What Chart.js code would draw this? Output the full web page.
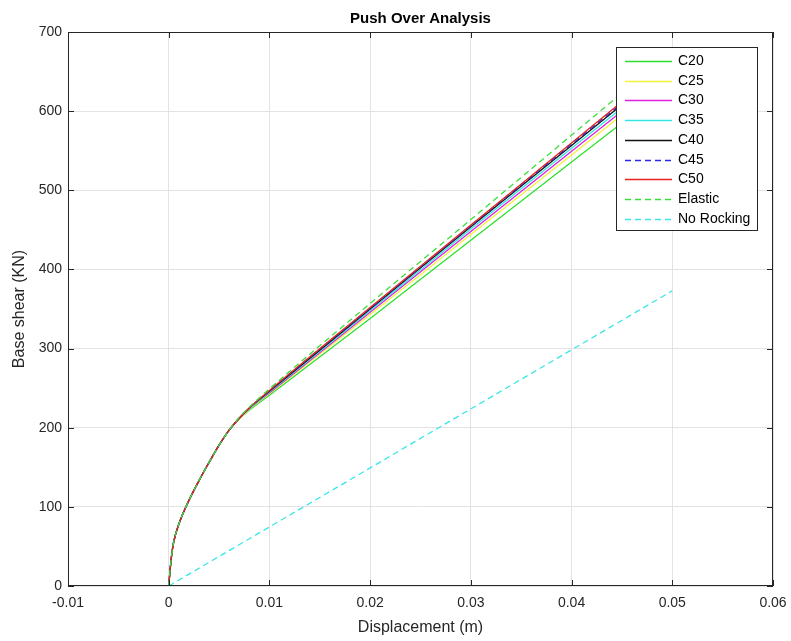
<!DOCTYPE html>
<html>
<head>
<meta charset="utf-8">
<script src="https://cdn.jsdelivr.net/npm/chart.js@4.4.0/dist/chart.umd.min.js"></script>
<style>
  html, body { margin: 0; padding: 0; background: #fff; }
</style>
</head>
<body>
<canvas id="pushover" width="791" height="641"></canvas>
<script>
// === DATA ===
const dispCurve = [0, 0.0001, 0.0003, 0.0005, 0.001, 0.002, 0.003, 0.004, 0.005, 0.006, 0.007, 0.008, 0.01, 0.02, 0.03, 0.045];
const shearC20 = [0, 15, 40, 56, 78, 108, 133, 156, 178, 197, 211, 222, 241, 338, 437, 585];
const shearC25 = [0, 15, 40, 56, 78, 108, 133, 156, 178, 197, 211, 223, 243, 343, 444, 595];
const shearC30 = [0, 15, 40, 56, 78, 108, 133, 156, 178, 197, 212, 224, 244, 346, 448, 600];
const shearC35 = [0, 15, 40, 56, 78, 108, 133, 156, 178, 197, 212, 224, 245, 348, 451, 604];
const shearC40 = [0, 15, 40, 56, 78, 108, 133, 156, 178, 197, 212, 225, 246, 350, 454, 608];
const shearC45 = [0, 15, 40, 56, 78, 108, 133, 156, 178, 197, 212, 225, 247, 351, 455, 610];
const shearC50 = [0, 15, 40, 56, 78, 108, 133, 156, 178, 197, 212, 225, 247, 352, 456, 612];
const shearElastic = [0, 15, 40, 56, 78, 108, 133, 156, 178, 197, 213, 226, 249, 357, 463, 623];
const dispNoRocking = [0, 0.05];
const shearNoRocking = [0, 373];

const xTicks = [-0.01, 0, 0.01, 0.02, 0.03, 0.04, 0.05, 0.06];
const yTicks = [0, 100, 200, 300, 400, 500, 600, 700];

// === STYLES ===
const FONT = "'Liberation Sans', Arial, sans-serif";
const series = [
  { label: "C20", xs: dispCurve, ys: shearC20, color: "#2ee02e", dash: [] },
  { label: "C25", xs: dispCurve, ys: shearC25, color: "#f2f23a", dash: [] },
  { label: "C30", xs: dispCurve, ys: shearC30, color: "#e020e0", dash: [] },
  { label: "C35", xs: dispCurve, ys: shearC35, color: "#30e6e6", dash: [] },
  { label: "C40", xs: dispCurve, ys: shearC40, color: "#111111", dash: [] },
  { label: "C45", xs: dispCurve, ys: shearC45, color: "#2a2ae6", dash: [6, 4] },
  { label: "C50", xs: dispCurve, ys: shearC50, color: "#e62222", dash: [] },
  { label: "Elastic", xs: dispCurve, ys: shearElastic, color: "#3ade3a", dash: [6, 4] },
  { label: "No Rocking", xs: dispNoRocking, ys: shearNoRocking, color: "#3ae6e6", dash: [6, 4] }
];

const datasets = series.map((s, i) => ({
  label: s.label,
  data: s.xs.map((x, k) => ({ x, y: s.ys[k] })),
  borderColor: s.color,
  borderWidth: 1.3,
  borderDash: s.dash,
  pointRadius: 0,
  fill: false,
  cubicInterpolationMode: "monotone",
  order: series.length - i   // MATLAB puts the later lines on top
}));

// === FRAME + INWARD TICKS ===
const frame = {
  id: "frame",
  afterDatasetsDraw(chart) {
    const { ctx, chartArea: a, scales: { x, y } } = chart;
    ctx.save();
    ctx.strokeStyle = "#262626";
    ctx.lineWidth = 1;
    ctx.strokeRect(Math.round(a.left) + 0.5, Math.round(a.top) + 0.5, Math.round(a.width) - 1, Math.round(a.height) - 1);
    ctx.beginPath();
    xTicks.forEach(v => {
      const px = Math.round(x.getPixelForValue(v)) + 0.5;
      ctx.moveTo(px, a.bottom); ctx.lineTo(px, a.bottom - 6);
      ctx.moveTo(px, a.top); ctx.lineTo(px, a.top + 6);
    });
    yTicks.forEach(v => {
      const py = Math.round(y.getPixelForValue(v)) + 0.5;
      ctx.moveTo(a.left, py); ctx.lineTo(a.left + 6, py);
      ctx.moveTo(a.right, py); ctx.lineTo(a.right - 6, py);
    });
    ctx.stroke();
    ctx.restore();
  }
};

// === LEGEND (inside the axes, like MATLAB northeast) ===
const boxLegend = {
  id: "boxLegend",
  afterDraw(chart) {
    const ctx = chart.ctx;
    const L = 616, T = 47, W = 141, H = 183;
    ctx.save();
    ctx.fillStyle = "#fff";
    ctx.fillRect(L, T, W, H);
    ctx.strokeStyle = "#262626";
    ctx.lineWidth = 1;
    ctx.strokeRect(L + 0.5, T + 0.5, W, H);
    ctx.font = "14px " + FONT;
    ctx.textBaseline = "middle";
    chart.data.datasets.forEach((ds, i) => {
      const yy = Math.round(T + 14 + i * 19.7) + 0.5;
      ctx.strokeStyle = ds.borderColor;
      ctx.lineWidth = ds.borderWidth;
      ctx.setLineDash(ds.borderDash);
      ctx.beginPath();
      ctx.moveTo(L + 9, yy);
      ctx.lineTo(L + 56, yy);
      ctx.stroke();
      ctx.setLineDash([]);
      ctx.fillStyle = "#000";
      ctx.fillText(ds.label, L + 62, yy);
    });
    ctx.restore();
  }
};

new Chart(document.getElementById("pushover"), {
  type: "line",
  data: { datasets },
  options: {
    responsive: false,
    animation: false,
    layout: { padding: { left: 0, right: 18, top: 0, bottom: 0 } },
    plugins: {
      legend: { display: false },
      tooltip: { enabled: false },
      title: {
        display: true,
        text: "Push Over Analysis",
        fullSize: false,
        color: "#000",
        font: { family: FONT, size: 15, weight: "bold" },
        padding: { top: 10, bottom: 4 }
      }
    },
    scales: {
      x: {
        type: "linear",
        min: -0.01, max: 0.06,
        afterBuildTicks: s => { s.ticks = xTicks.map(v => ({ value: v })); },
        afterFit: s => { s.height = 55; s.paddingLeft = 0; s.paddingRight = 0; },
        ticks: {
          color: "#262626",
          font: { family: FONT, size: 14 },
          padding: 9,
          maxRotation: 0,
          callback: v => String(Number(v.toFixed(2)))
        },
        grid: { color: "#e3e3e3", drawTicks: false },
        border: { display: false },
        title: {
          display: true,
          text: "Displacement (m)",
          color: "#262626",
          font: { family: FONT, size: 16 },
          padding: { top: 0, bottom: 4 }
        }
      },
      y: {
        type: "linear",
        min: 0, max: 700,
        afterBuildTicks: s => { s.ticks = yTicks.map(v => ({ value: v })); },
        afterFit: s => { s.width = 68; },
        ticks: {
          color: "#262626",
          font: { family: FONT, size: 14 },
          padding: 6
        },
        grid: { color: "#e3e3e3", drawTicks: false },
        border: { display: false },
        title: {
          display: true,
          text: "Base shear (KN)",
          color: "#262626",
          font: { family: FONT, size: 16 },
          padding: { top: 10, bottom: 0 }
        }
      }
    }
  },
  plugins: [frame, boxLegend]
});
</script>
</body>
</html>
